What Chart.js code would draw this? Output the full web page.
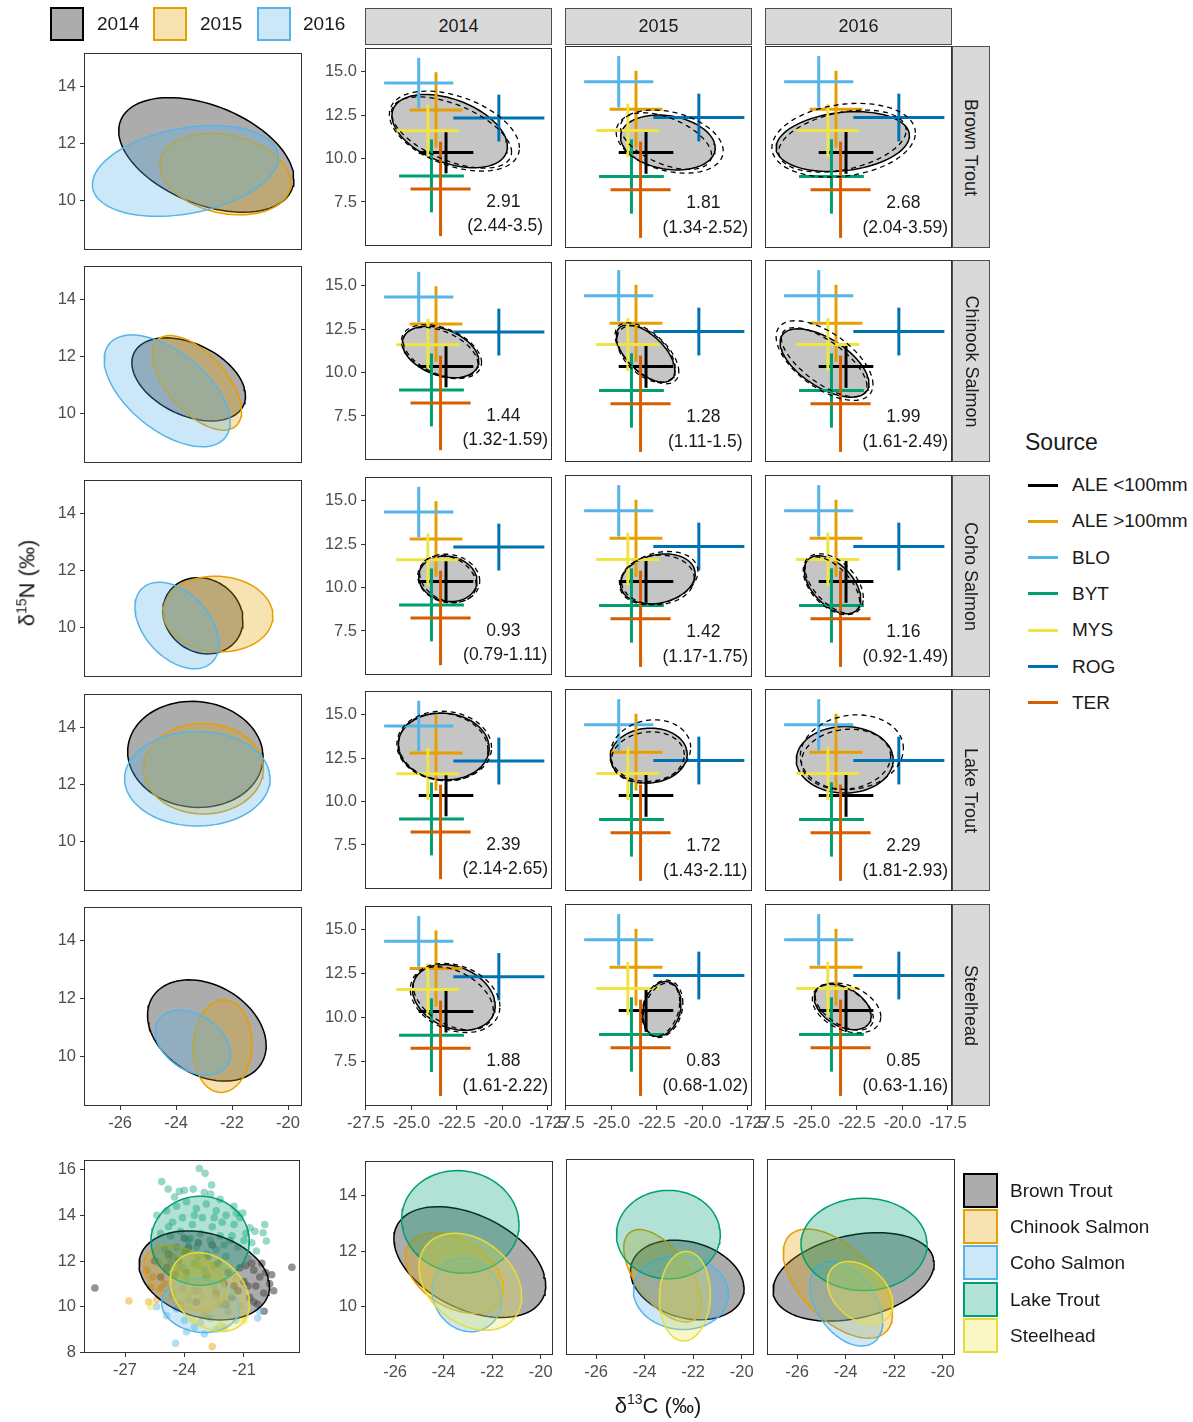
<!DOCTYPE html>
<html>
<head>
<meta charset="utf-8">
<script src="https://cdn.jsdelivr.net/npm/chart.js@4.4.0/dist/chart.umd.min.js"></script>
<style>
  body { margin: 0; background: #fff; font-family: "Liberation Sans", Arial, sans-serif; }
  #fig { position: relative; width: 1193px; height: 1422px; overflow: hidden; }
  #fig canvas { position: absolute; }
  .strip { position: absolute; background: #d9d9d9; border: 1px solid #4d4d4d; box-sizing: border-box;
           color: #1a1a1a; font-size: 18px; display: flex; align-items: center; justify-content: center; }
  .strip.v span { transform: rotate(90deg); white-space: nowrap; }
  .lbl { position: absolute; color: #1a1a1a; white-space: nowrap; }
  .key { position: absolute; box-sizing: border-box; border: 2px solid; }
  .ln { position: absolute; height: 3px; }
</style>
</head>
<body>
<div id="fig"></div>
<script>
// ---- data ----
const years = ["2014", "2015", "2016"];
const species = ["Brown Trout", "Chinook Salmon", "Coho Salmon", "Lake Trout", "Steelhead"];
const sources = ["ALE <100mm", "ALE >100mm", "BLO", "BYT", "MYS", "ROG", "TER"];
// source means and SD (d13C, d15N)
const srcC   = [-23.1, -23.65, -24.6, -23.9, -24.1, -20.2, -23.4];
const srcCsd = [1.5, 1.45, 1.9, 1.78, 1.73, 2.5, 1.65];
const srcN   = [10.35, 12.8, 14.35, 9.0, 11.6, 12.33, 8.25];
const srcNsd = [1.2, 2.17, 1.45, 2.1, 1.5, 1.35, 2.72];

// ellipses: [centre d13C, centre d15N, half-width, half-height, correlation]
// standard ellipses per species (row) and year (col), left column and bottom row
const seaEll = [
  [[-22.92, 11.6, 3.13, 2.0, -0.42], [-22.24, 10.93, 2.34, 1.42, -0.22], [-23.67, 11.04, 3.32, 1.58, 0.3]],
  [[-23.55, 11.2, 2.03, 1.45, -0.4], [-23.26, 11.08, 1.6, 1.65, -0.6], [-24.32, 10.8, 2.25, 1.95, -0.56]],
  [[-23.04, 10.42, 1.43, 1.33, -0.12], [-22.5, 10.48, 1.96, 1.32, -0.05], [-23.97, 10.08, 1.5, 1.51, -0.42]],
  [[-23.31, 13.05, 2.42, 1.85, -0.05], [-23.02, 12.55, 2.14, 1.58, 0.0], [-23.24, 12.2, 2.6, 1.65, 0.0]],
  [[-22.9, 10.89, 2.12, 1.75, -0.3], [-22.34, 10.35, 1.05, 1.6, 0.05], [-23.4, 10.47, 1.35, 1.12, -0.35]]
];
// mixing-space panels: solid ellipse and two dashed ellipses
const gridSolid = [
  [[-22.9, 11.58, 3.17, 2.11, -0.42], [-21.9, 10.92, 2.6, 1.55, -0.2], [-23.28, 10.97, 3.66, 1.69, 0.2]],
  [[-23.4, 11.18, 2.1, 1.48, -0.35], [-23.12, 11.09, 1.61, 1.62, -0.6], [-24.28, 10.55, 2.44, 1.93, -0.6]],
  [[-23.0, 10.5, 1.6, 1.31, -0.1], [-22.45, 10.5, 2.05, 1.41, 0.2], [-23.84, 10.17, 1.55, 1.64, -0.5]],
  [[-23.23, 13.17, 2.5, 1.92, -0.05], [-22.95, 12.61, 2.11, 1.55, 0.05], [-23.17, 12.37, 2.66, 1.88, 0.0]],
  [[-22.67, 11.15, 2.27, 1.87, -0.25], [-22.23, 10.44, 1.05, 1.55, 0.2], [-23.28, 10.56, 1.56, 1.29, -0.4]]
];
const gridDashA = [
  [[-22.64, 11.58, 3.57, 2.3, -0.42], [-21.8, 10.97, 2.94, 1.78, -0.3], [-23.23, 11.05, 3.94, 2.08, 0.2]],
  [[-23.35, 11.2, 2.2, 1.55, -0.4], [-23.05, 11.1, 1.75, 1.72, -0.6], [-24.28, 10.69, 2.66, 2.25, -0.6]],
  [[-22.95, 10.52, 1.7, 1.4, -0.1], [-22.4, 10.55, 2.15, 1.5, 0.25], [-23.8, 10.2, 1.65, 1.72, -0.45]],
  [[-23.2, 13.2, 2.6, 2.0, -0.05], [-22.85, 12.89, 2.2, 1.74, 0.1], [-22.78, 12.8, 2.83, 2.11, 0.1]],
  [[-22.6, 11.12, 2.46, 1.97, -0.25], [-22.2, 10.45, 1.12, 1.62, 0.2], [-23.07, 10.5, 1.88, 1.41, -0.35]]
];
const gridDashB = [
  [[-22.8, 11.5, 3.3, 2.05, -0.55], [-22.0, 11.0, 2.5, 1.6, -0.5], [-23.3, 11.0, 3.5, 1.75, 0.35]],
  [[-23.4, 11.15, 2.05, 1.45, -0.45], [-23.1, 11.05, 1.6, 1.6, -0.5], [-24.3, 10.6, 2.35, 1.95, -0.7]],
  [[-23.0, 10.5, 1.55, 1.35, -0.25], [-22.45, 10.45, 2.0, 1.4, 0.05], [-23.85, 10.15, 1.5, 1.6, -0.6]],
  [[-23.25, 13.15, 2.45, 1.95, -0.1], [-23.0, 12.5, 2.0, 1.45, 0.1], [-23.1, 12.4, 2.45, 1.7, 0.1]],
  [[-22.7, 11.1, 2.2, 1.8, -0.4], [-22.25, 10.4, 1.0, 1.5, 0.3], [-23.2, 10.55, 1.6, 1.3, -0.5]]
];
const seaMode = [
  ["2.91", "1.81", "2.68"], ["1.44", "1.28", "1.99"], ["0.93", "1.42", "1.16"],
  ["2.39", "1.72", "2.29"], ["1.88", "0.83", "0.85"]
];
const seaCI = [
  ["(2.44-3.5)", "(1.34-2.52)", "(2.04-3.59)"], ["(1.32-1.59)", "(1.11-1.5)", "(1.61-2.49)"],
  ["(0.79-1.11)", "(1.17-1.75)", "(0.92-1.49)"], ["(2.14-2.65)", "(1.43-2.11)", "(1.81-2.93)"],
  ["(1.61-2.22)", "(0.68-1.02)", "(0.63-1.16)"]
];
// all-years ellipses per species and the individual fish
const allEll = [[-23.0, 11.37, 3.29, 1.95, -0.25], [-24.0, 11.26, 2.06, 1.41, -0.4],
  [-23.19, 10.05, 1.96, 1.18, -0.1], [-23.21, 12.89, 2.48, 1.95, 0.0], [-22.72, 10.64, 2.0, 1.73, -0.3]];
const fishBT = [[-28.52,10.82],[-18.58,11.73],[-20.9,11.8],[-20.5,11.6],[-20.2,11.3],[-19.9,11.5],[-19.7,11.0],
  [-20.0,10.6],[-20.4,10.9],[-20.7,10.4],[-21.0,11.1],[-19.98,9.8],[-20.3,10.1],[-21.3,10.7],[-20.6,11.9],
  [-19.6,11.4],[-24.8,12.3],[-24.3,12.0],[-23.8,12.6],[-23.3,12.8],[-22.8,12.2],[-22.3,11.9],[-21.8,11.5],
  [-21.5,10.9],[-24.5,11.4],[-25.2,11.3],[-23.4,10.2],[-22.4,10.6],[-21.9,10.1],[-24.0,13.0],[-22.6,12.7],
  [-21.2,11.7],[-20.8,10.9],[-20.1,11.9],[-21.6,10.4],[-22.0,11.0],[-25.5,12.0],[-24.9,11.7],[-23.9,11.5],
  [-22.9,11.3],[-20.5,10.2],[-19.5,10.7]];
const fishCS = [[-26.8,10.25],[-25.7,10.85],[-25.4,10.3],[-25.6,11.3],[-25.0,11.0],[-24.6,10.5],[-24.3,11.7],
  [-25.3,11.9],[-24.8,12.2],[-23.9,11.2],[-23.5,10.7],[-23.0,9.6],[-22.6,8.25],[-22.0,9.1],[-24.2,10.1],
  [-25.9,11.6],[-24.0,12.4],[-23.3,11.8],[-25.2,10.8],[-24.4,11.4],[-25.8,10.2],[-24.9,11.6]];
const fishCO = [[-24.45,8.4],[-23.9,8.9],[-23.5,9.1],[-23.0,8.8],[-24.9,9.6],[-24.4,9.9],[-23.8,10.3],[-22.7,9.5],
  [-22.2,10.1],[-21.8,9.8],[-25.4,10.0],[-20.3,9.5],[-20.2,9.8],[-23.3,10.7],[-24.1,10.8],[-22.5,10.9],
  [-23.2,9.3],[-22.4,9.0],[-24.0,9.4],[-21.4,9.4]];
const fishLT = [[-23.25,16.05],[-22.96,15.84],[-25.15,15.48],[-24.82,15.15],[-24.26,15.05],[-23.56,15.15],
  [-22.63,15.33],[-22.68,14.93],[-19.95,13.6],[-19.87,12.88],[-20.03,13.24],[-20.45,13.3],[-20.37,12.44],
  [-21.05,14.1],[-21.38,14.1],[-20.7,13.46],[-24.9,14.2],[-24.4,14.4],[-23.9,14.6],[-23.4,14.3],[-22.9,14.5],
  [-22.4,14.2],[-21.9,14.0],[-21.5,13.6],[-24.6,13.7],[-24.1,13.9],[-23.6,13.6],[-23.1,13.9],[-22.6,13.5],
  [-22.1,13.7],[-21.6,13.1],[-25.2,13.2],[-24.7,13.1],[-24.2,13.3],[-23.7,13.0],[-23.2,13.2],[-22.7,12.9],
  [-22.2,13.1],[-21.3,12.6],[-25.0,12.5],[-24.4,12.6],[-23.9,12.4],[-23.4,12.6],[-22.9,12.3],[-22.4,12.5],
  [-21.9,12.2],[-24.7,11.9],[-24.1,11.7],[-23.5,11.9],[-23.0,11.6],[-22.5,11.8],[-23.8,12.9],[-21.0,12.9],
  [-20.8,12.1],[-25.4,14.0],[-24.5,14.8],[-23.0,15.0],[-22.2,14.7],[-21.2,13.9],[-20.9,13.2],[-24.8,13.5],
  [-23.5,14.0],[-22.5,13.9],[-22.0,12.7],[-21.7,12.9],[-23.3,12.2],[-24.6,12.2],[-24.0,15.1],[-21.5,14.4],
  [-20.6,12.8]];
const fishSH = [[-25.7,10.0],[-21.0,9.4],[-22.2,9.2],[-23.6,9.4],[-24.2,10.0],[-23.1,10.4],[-22.6,11.0],
  [-21.6,10.6],[-24.0,11.3],[-23.3,11.8],[-22.1,11.7],[-21.4,11.2],[-24.5,10.7],[-22.9,9.8],[-21.9,10.2],
  [-23.8,10.6],[-22.4,10.4],[-21.2,10.0],[-22.8,11.4]];
const fish = [fishBT, fishCS, fishCO, fishLT, fishSH];

// tick labels
const gridXTicks = [-27.5, -25, -22.5, -20, -17.5];
const gridYTicks = [7.5, 10, 12.5, 15];
const sideXTicks = [-26, -24, -22, -20];
const sideYTicks = [10, 12, 14];
const scXTicks = [-27, -24, -21];
const scYTicks = [8, 10, 12, 14, 16];

// ---- styling ----
const FONT = '"Liberation Sans", Arial, sans-serif';
const srcColor = ["#000000", "#E69F00", "#56B4E9", "#009E73", "#F0E442", "#0072B2", "#D55E00"];
const spLine = ["#000000", "#E69F00", "#56B4E9", "#009E73", "#E8DC3A"];
const spFill = ["rgba(90,90,90,0.5)", "rgba(230,159,0,0.3)", "rgba(86,180,233,0.3)", "rgba(0,158,115,0.3)", "rgba(240,228,66,0.3)"];
const spDot = ["rgba(40,40,40,0.5)", "rgba(230,159,0,0.45)", "rgba(86,180,233,0.45)", "rgba(0,158,115,0.4)", "rgba(240,228,66,0.5)"];
const yrLine = ["#000000", "#E69F00", "#56B4E9"];
const yrFill = ["rgba(90,90,90,0.5)", "rgba(230,159,0,0.3)", "rgba(86,180,233,0.3)"];

const fig = document.getElementById("fig");

function ring(e) {
  const [c, n, w, h, r] = e;
  const pts = [];
  for (let i = 0; i <= 90; i++) {
    const t = i / 90 * 2 * Math.PI;
    pts.push({ x: c + w * Math.cos(t), y: n + h * (r * Math.cos(t) + Math.sqrt(1 - r * r) * Math.sin(t)) });
  }
  return pts;
}

function ellSet(e, line, fill, order, dash) {
  return { data: ring(e), showLine: true, pointRadius: 0, borderColor: line, borderWidth: dash ? 1.3 : 1.5,
           borderDash: dash || [], backgroundColor: fill || "transparent", fill: fill ? "shape" : false,
           tension: 0, order: order };
}

const frame = {
  id: "frame",
  afterDraw(ch) {
    const a = ch.chartArea, g = ch.ctx;
    g.save();
    g.strokeStyle = "#333";
    g.lineWidth = 1;
    g.strokeRect(Math.round(a.left) + 0.5, Math.round(a.top) + 0.5, Math.round(a.width) - 1, Math.round(a.height) - 1);
    g.restore();
  }
};

function axis(range, ticks, fmt, size, dir) {
  return {
    type: "linear", min: range[0], max: range[1], display: !!ticks,
    afterBuildTicks: s => { if (ticks) s.ticks = ticks.map(v => ({ value: v })); },
    afterFit: s => {
      if (!ticks) { s.width = 0; s.height = 0; return; }
      if (dir === "x") s.height = size; else s.width = size;
    },
    grid: { drawOnChartArea: false, drawTicks: true, tickLength: 4, color: "#333" },
    border: { display: false },
    ticks: { autoSkip: false, maxRotation: 0, minRotation: 0, padding: 4, color: "#4d4d4d",
             font: { size: 16.5, family: FONT }, callback: v => fmt ? fmt(v) : String(v) }
  };
}

function panel(o) {
  const L = o.yTicks ? 52 : 26, T = 12, R = 26, B = o.xTicks ? 34 : 12;
  const W = o.w + L + R, H = o.h + T + B;
  const cv = document.createElement("canvas");
  cv.width = W; cv.height = H;
  cv.style.left = (o.x - L) + "px"; cv.style.top = (o.y - T) + "px";
  cv.style.width = W + "px"; cv.style.height = H + "px";
  fig.appendChild(cv);
  new Chart(cv, {
    type: "scatter",
    data: { datasets: o.datasets },
    options: {
      responsive: false, animation: false, events: [],
      layout: { padding: { left: o.yTicks ? 0 : L, right: R, top: T, bottom: o.xTicks ? 0 : B } },
      plugins: { legend: { display: false }, tooltip: { enabled: false } },
      scales: {
        x: axis(o.xr, o.xTicks, o.xFmt, B, "x"),
        y: axis(o.yr, o.yTicks, o.yFmt, L, "y")
      }
    },
    plugins: [frame].concat(o.extra || [])
  });
}

function html(cls, x, y, w, h, inner, style) {
  const d = document.createElement("div");
  d.className = cls;
  d.style.left = x + "px"; d.style.top = y + "px";
  if (w != null) d.style.width = w + "px";
  if (h != null) d.style.height = h + "px";
  if (style) Object.assign(d.style, style);
  d.innerHTML = inner || "";
  fig.appendChild(d);
  return d;
}

// ---- layout ----
const gridLeft = [365, 565, 765], gridTop = [46, 260, 475, 689, 904], gridW = 187, gridH = 202;
const sideLeft = 84, sideTop = [51, 264, 478, 692, 905], sideW = 218, sideH = 201;
const botLeft = [365, 566, 767], botTop = 1159, botW = 188, botH = 196;
const fmt1 = v => v.toFixed(1);

// left column: ellipses of the three years per species
species.forEach((sp, r) => {
  panel({
    x: sideLeft, y: sideTop[r], w: sideW, h: sideH,
    xr: [-27.29, -19.5], yr: [8.28, 15.16],
    xTicks: r === 4 ? sideXTicks : null, yTicks: sideYTicks,
    datasets: years.map((yr, c) => ellSet(seaEll[r][c], yrLine[c], yrFill[c], 3 - c))
  });
});

// mixing panels
species.forEach((sp, r) => {
  years.forEach((yr, c) => {
    const ds = [ellSet(gridSolid[r][c], "#000", "rgba(90,90,90,0.35)", 100)];
    sources.forEach((s, i) => {
      const st = { showLine: true, pointRadius: 0, borderColor: srcColor[i], borderWidth: 3, order: 50 - i };
      ds.push(Object.assign({ data: [{ x: srcC[i] - srcCsd[i], y: srcN[i] }, { x: srcC[i] + srcCsd[i], y: srcN[i] }] }, st));
      ds.push(Object.assign({ data: [{ x: srcC[i], y: srcN[i] - srcNsd[i] }, { x: srcC[i], y: srcN[i] + srcNsd[i] }] }, st));
    });
    ds.push(ellSet(gridDashA[r][c], "#000", null, 10, [5, 4]));
    ds.push(ellSet(gridDashB[r][c], "#000", null, 11, [5, 4]));
    const note = {
      id: "note",
      afterDatasetsDraw(ch) {
        const g = ch.ctx, xs = ch.scales.x, ys = ch.scales.y;
        g.save();
        g.fillStyle = "#1a1a1a";
        g.font = "17.5px " + FONT;
        g.textAlign = "center"; g.textBaseline = "middle";
        g.fillText(seaMode[r][c], xs.getPixelForValue(-19.95), ys.getPixelForValue(7.5));
        g.fillText(seaCI[r][c], xs.getPixelForValue(-19.85), ys.getPixelForValue(6.08));
        g.restore();
      }
    };
    panel({
      x: gridLeft[c], y: gridTop[r], w: gridW, h: gridH,
      xr: [-27.55, -17.28], yr: [4.96, 16.37],
      xTicks: r === 4 ? gridXTicks : null, yTicks: c === 0 ? gridYTicks : null,
      xFmt: fmt1, yFmt: fmt1, datasets: ds, extra: [note]
    });
  });
});

// bottom-left: all fish and all-year ellipses
{
  const ds = species.map((sp, i) => ellSet(allEll[i], spLine[i], spFill[i], 10 - i));
  species.forEach((sp, i) => ds.push({
    data: fish[i].map(p => ({ x: p[0], y: p[1] })), pointRadius: 3.8, pointBorderWidth: 0,
    pointBackgroundColor: spDot[i], backgroundColor: spDot[i], borderColor: "transparent", order: 30 - i
  }));
  panel({ x: 84, y: 1158, w: 216, h: 195, xr: [-29.07, -18.17], yr: [7.97, 16.43],
          xTicks: scXTicks, yTicks: scYTicks, datasets: ds });
}

// bottom row: species ellipses per year
years.forEach((yr, c) => {
  panel({
    x: botLeft[c], y: botTop, w: botW, h: botH,
    xr: [-27.24, -19.49], yr: [8.25, 15.25],
    xTicks: sideXTicks, yTicks: c === 0 ? sideYTicks : null,
    datasets: species.map((sp, i) => ellSet(seaEll[i][c], spLine[i], spFill[i], 10 - i))
  });
});

// ---- strips, legends, titles ----
years.forEach((yr, c) => html("strip", gridLeft[c], 8, gridW, 37, yr));
species.forEach((sp, r) => html("strip v", 952, gridTop[r], 38, gridH, "<span>" + sp + "</span>"));

const topKeyX = [50, 153, 257], topTextX = [97, 200, 303];
years.forEach((yr, c) => {
  html("key", topKeyX[c], 7, 34, 34, "", { borderColor: yrLine[c], background: yrFill[c] });
  html("lbl", topTextX[c], 13, null, null, yr, { fontSize: "19px" });
});

html("lbl", 1025, 429, null, null, "Source", { fontSize: "23px" });
sources.forEach((s, i) => {
  const y = 485 + i * 36.3;
  html("ln", 1028, y - 1.5, 30, null, "", { background: srcColor[i] });
  html("lbl", 1072, y - 11, null, null, s.replace("<", "&lt;").replace(">", "&gt;"), { fontSize: "19px" });
});

species.forEach((sp, i) => {
  const y = 1173 + i * 36.2;
  html("key", 963, y, 35, 35, "", { borderColor: spLine[i], background: spFill[i] });
  html("lbl", 1010, y + 7, null, null, sp, { fontSize: "19px" });
});

html("lbl", 27, 583, null, null, "&delta;<sup style='font-size:14px'>15</sup>N (&permil;)",
     { fontSize: "22px", transform: "translate(-50%,-50%) rotate(-90deg)" });
html("lbl", 658, 1405, null, null, "&delta;<sup style='font-size:14px'>13</sup>C (&permil;)",
     { fontSize: "22px", transform: "translate(-50%,-50%)" });
</script>
</body>
</html>
